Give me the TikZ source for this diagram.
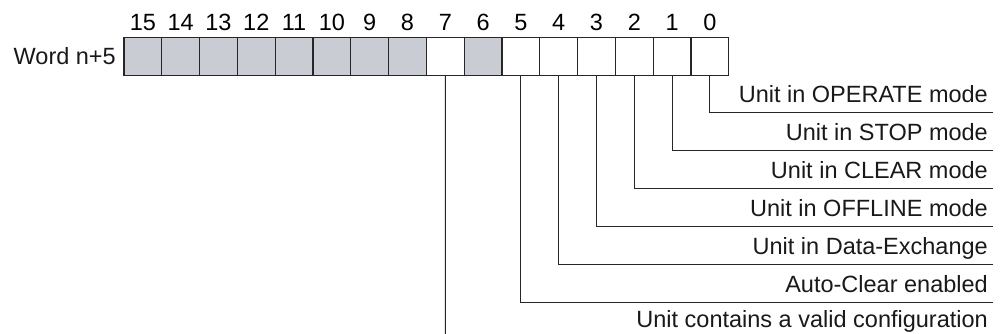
\documentclass[tikz,border=0pt]{standalone}
\usepackage{fontspec}
\setmainfont{Liberation Sans}
\begin{document}
\begin{tikzpicture}[x=1pt,y=-1pt,
  bitbox/.style={draw=black!85, line width=1.2pt, fill=white, rectangle,
    minimum width=37.8pt, minimum height=38pt, inner sep=0pt},
  graybit/.style={bitbox, fill=boxgray},
  num/.style={anchor=base, inner sep=0pt, font=\fontsize{23.5}{28}\selectfont},
  lbl/.style={anchor=base east, inner sep=0pt, font=\fontsize{23.5}{28}\selectfont, text=black!90},
  conn/.style={draw=black!85, line width=1pt}]
\definecolor{boxgray}{RGB}{201,204,211}
\useasboundingbox (0,0) rectangle (1002,334);
% word label
\node[lbl] (word) at (116,65) {Word n+5};
% bit boxes
\foreach \k in {15,...,0}{
  \pgfmathsetmacro{\cx}{124+(15-\k)*37.8+18.9}
  \ifnum\k>5
    \ifnum\k=7
      \node[bitbox] (b\k) at (\cx,56.3) {};
    \else
      \node[graybit] (b\k) at (\cx,56.3) {};
    \fi
  \else
    \node[bitbox] (b\k) at (\cx,56.3) {};
  \fi
  \node[num] (n\k) at (\cx,31) {\k};
}
% labels and connectors
\foreach \k/\t in {0/Unit in OPERATE mode,1/Unit in STOP mode,2/Unit in CLEAR mode,
  3/Unit in OFFLINE mode,4/Unit in Data-Exchange,5/Auto-Clear enabled}{
  \pgfmathsetmacro{\ly}{113+\k*37.8}
  \pgfmathsetmacro{\by}{\ly-10}
  \node[lbl] (l\k) at (988,\by) {\t};
  \coordinate (e\k) at (993,\ly);
  \draw[conn] (b\k.south) |- (e\k);
}
\node[lbl] (l7) at (988,327) {Unit contains a valid configuration};
\coordinate (e7) at (445.3,334);
\draw[conn] (b7.south) -- (e7);
\end{tikzpicture}
\end{document}
